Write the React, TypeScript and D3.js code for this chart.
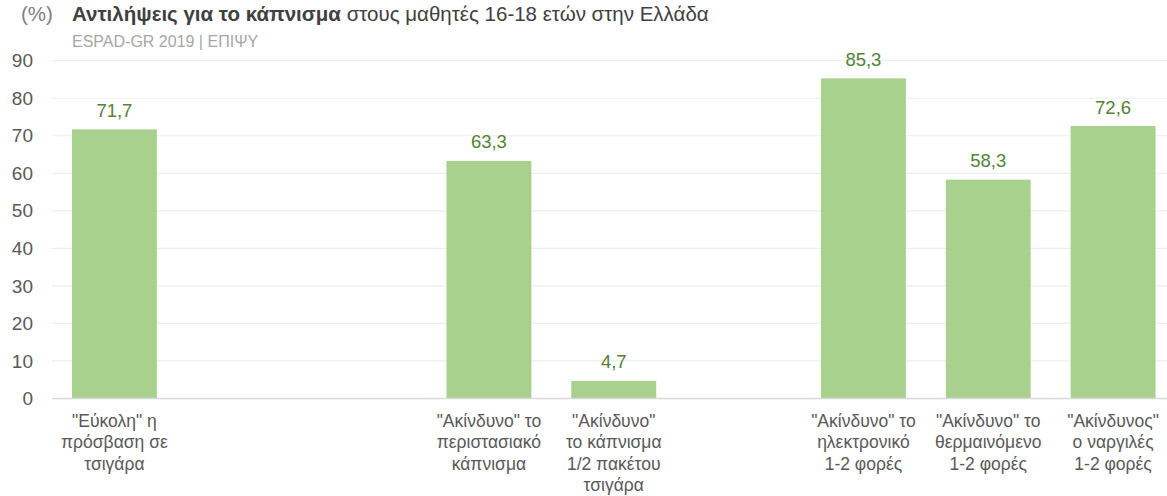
import React from "react";
import * as d3 from "d3";

const categories: string[] = [
  '"Εύκολη" η|πρόσβαση σε|τσιγάρα',
  "",
  "",
  '"Ακίνδυνο" το|περιστασιακό|κάπνισμα',
  '"Ακίνδυνο"|το κάπνισμα|1/2 πακέτου|τσιγάρα',
  "",
  '"Ακίνδυνο" το|ηλεκτρονικό|1-2 φορές',
  '"Ακίνδυνο" το|θερμαινόμενο|1-2 φορές',
  '"Ακίνδυνος"|ο ναργιλές|1-2 φορές',
];
const values: (number | null)[] = [71.7, null, null, 63.3, 4.7, null, 85.3, 58.3, 72.6];
const yTicks: number[] = [0, 10, 20, 30, 40, 50, 60, 70, 80, 90];
const titleUnit = "(%)";
const titleBold = "Αντιλήψεις για το κάπνισμα";
const titleRest = " στους μαθητές 16-18 ετών στην Ελλάδα";
const subtitle = "ESPAD-GR 2019 | ΕΠΙΨΥ";

const W = 1167;
const H = 496;
const FONT = "Liberation Sans, Arial, sans-serif";

export default function App() {
  const x = d3
    .scaleBand<number>()
    .domain(d3.range(categories.length))
    .range([52, 1175.5])
    .paddingInner(0.32)
    .paddingOuter(0.16);
  const y = d3.scaleLinear().domain([0, 90]).range([398.5, 60.7]);
  const fmt = (v: number) => d3.format(".1f")(v).replace(".", ",");

  return (
    <svg
      width={W}
      height={H}
      style={{ position: "absolute", left: 0, top: 0, background: "#fff" }}
      fontFamily={FONT}
    >
      <text x={21} y={21} fontSize={20.5} fill="#7f7f7f">
        {titleUnit}
      </text>
      <text x={72} y={21} fontSize={20.5} fill="#404040">
        <tspan fontWeight="bold">{titleBold}</tspan>
        <tspan>{titleRest}</tspan>
      </text>
      <text x={72} y={46.5} fontSize={16} fill="#a6a6a6">
        {subtitle}
      </text>

      {yTicks.map((t) => (
        <g key={t}>
          {t > 0 && (
            <line x1={52} x2={1167} y1={y(t)} y2={y(t)} stroke="#eeeeee" strokeWidth={1.2} />
          )}
          <text x={33} y={y(t)} dy="0.35em" textAnchor="end" fontSize={19} fill="#595959">
            {t}
          </text>
        </g>
      ))}

      {values.map((v, i) =>
        v == null ? null : (
          <g key={i}>
            <rect
              x={x(i)!}
              y={y(v)}
              width={x.bandwidth()}
              height={y(0) - y(v)}
              fill="#a9d18e"
            />
            <text
              x={x(i)! + x.bandwidth() / 2}
              y={y(v) - 12.5}
              textAnchor="middle"
              fontSize={18.5}
              fill="#548235"
            >
              {fmt(v)}
            </text>
          </g>
        )
      )}

      <line x1={52} x2={1167} y1={y(0)} y2={y(0)} stroke="#d9d9d9" strokeWidth={1.5} />

      {categories.map((c, i) =>
        c === "" ? null : (
          <text
            key={i}
            x={x(i)! + x.bandwidth() / 2}
            y={427}
            textAnchor="middle"
            fontSize={17.5}
            fill="#595959"
          >
            {c.split("|").map((line, j) => (
              <tspan key={j} x={x(i)! + x.bandwidth() / 2} dy={j === 0 ? 0 : 21.3}>
                {line}
              </tspan>
            ))}
          </text>
        )
      )}
    </svg>
  );
}
